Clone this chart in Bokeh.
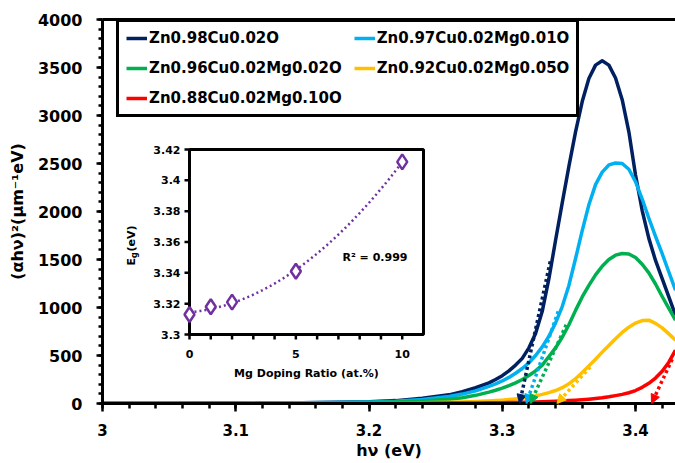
import numpy as np
from bokeh.plotting import figure
from bokeh.models import (Range1d, LinearAxis, FixedTicker, Legend, LegendItem,
                          Arrow, NormalHead, Label)
from bokeh.core.properties import value
from bokeh.embed import file_html
from bokeh.resources import INLINE

# ---------------- data ----------------
hv_ev = [3.00, 3.05, 3.10, 3.15, 3.20, 3.22, 3.24, 3.26, 3.27, 3.28, 3.29,
         3.295, 3.30, 3.305, 3.31, 3.315, 3.32, 3.325, 3.33, 3.335, 3.34,
         3.345, 3.35, 3.355, 3.36, 3.365, 3.37, 3.375, 3.38, 3.385, 3.39,
         3.395, 3.40, 3.405, 3.41, 3.415, 3.42, 3.425, 3.43]

zn098 = [2, 3, 5, 8, 18, 30, 54, 90, 124, 164, 215, 250, 290, 340, 400, 470,
         580, 730, 960, 1300, 1700, 2090, 2470, 2830, 3145, 3385, 3525, 3570,
         3525, 3390, 3165, 2830, 2380, 2010, 1720, 1490, 1300, 1110, 920]
mg001 = [1, 2, 4, 7, 15, 24, 42, 72, 98, 132, 178, 205, 235, 272, 315, 365,
         425, 500, 590, 700, 840, 1010, 1230, 1510, 1800, 2070, 2280, 2410,
         2485, 2505, 2500, 2440, 2310, 2130, 1930, 1740, 1560, 1370, 1180]
mg002 = [0, 1, 2, 4, 10, 16, 26, 44, 60, 85, 118, 138, 160, 186, 215, 250,
         292, 340, 400, 490, 580, 690, 820, 970, 1110, 1230, 1340, 1430, 1500,
         1545, 1563, 1558, 1520, 1450, 1360, 1245, 1115, 990, 868]
mg005 = [0, 0, 1, 2, 4, 6, 9, 13, 16, 20, 26, 30, 35, 41, 48, 56, 66, 79, 95,
         113, 135, 165, 205, 258, 322, 392, 462, 535, 605, 675, 740, 795, 838,
         864, 868, 835, 788, 725, 660]
mg010 = [0, 0, 0, 1, 2, 2, 3, 4, 5, 6, 7, 8, 9, 10, 11, 12, 14, 16, 18, 20,
         23, 26, 30, 34, 39, 45, 52, 60, 70, 82, 95, 112, 135, 168, 210, 265,
         335, 430, 555]

series_names = ["Zn0.98Cu0.02O", "Zn0.97Cu0.02Mg0.01O", "Zn0.96Cu0.02Mg0.02O",
                "Zn0.92Cu0.02Mg0.05O", "Zn0.88Cu0.02Mg0.10O"]
series_values = [zn098, mg001, mg002, mg005, mg010]
series_colors = ["#002060", "#00B0F0", "#00B050", "#FFC000", "#FF0000"]

# band gaps (inset) and tangent lines (start point on curve -> x-intercept = Eg)
mg_ratio = [0, 1, 2, 5, 10]
eg_values = [3.313, 3.318, 3.321, 3.341, 3.412]
tangent_x = [3.336, 3.342, 3.348, 3.366, 3.4275]
tangent_y = [1480, 960, 820, 380, 460]

x_ticks = [3.0, 3.1, 3.2, 3.3, 3.4]
x_tick_labels = ["3", "3.1", "3.2", "3.3", "3.4"]
y_ticks = [0, 500, 1000, 1500, 2000, 2500, 3000, 3500, 4000]

inset_y_ticks = [3.30, 3.32, 3.34, 3.36, 3.38, 3.40, 3.42]
inset_y_tick_labels = ["3.3", "3.32", "3.34", "3.36", "3.38", "3.4", "3.42"]
inset_x_ticks = [0, 5, 10]
inset_x_tick_labels = ["0", "5", "10"]
inset_x_minor = [0, 1, 2, 3, 4, 5, 6, 7, 8, 9, 10]
r2_text = "R\u00b2 = 0.999"

# ---------------- layout constants ----------------
FONT = "DejaVu Sans"
W, H = 675, 463
BL, BR, BT, BB = 102, 0, 19, 60
FRAME_W, FRAME_H = W - BL - BR, H - BT - BB
X_RANGE = (3.0, 3.43)
Y_RANGE = (0, 4000)
INSET_X = (0, 11)
INSET_Y = (3.30, 3.42)
INSET_PX = dict(left=87, right=321, bottom=69, top=254)  # inside main frame
PURPLE = "#7030A0"

p = figure(width=W, height=H, x_range=Range1d(*X_RANGE), y_range=Range1d(*Y_RANGE),
           output_backend="svg", toolbar_location=None,
           min_border_left=BL, min_border_right=BR, min_border_top=BT,
           min_border_bottom=BB)
p.outline_line_color = None
p.xgrid.visible = False
p.ygrid.visible = False
p.background_fill_color = "white"

# ---------------- axes ----------------
xa = p.xaxis[0]
xa.ticker = FixedTicker(ticks=x_ticks,
                        minor_ticks=list(np.round(np.arange(3.0, 3.4301, 0.02), 2)))
xa.major_label_overrides = dict(zip(x_ticks, x_tick_labels))
xa.axis_label = "h\u03bd (eV)"
xa.major_tick_out, xa.major_tick_in = 8, 0
xa.minor_tick_out, xa.minor_tick_in = 5, 0
xa.major_label_standoff = 12
xa.axis_label_standoff = 2

ya = p.yaxis[0]
ya.ticker = FixedTicker(ticks=y_ticks, minor_ticks=list(range(0, 4001, 100)))
ya.axis_label = "(\u03b1h\u03bd)\u00b2(\u03bcm\u207b\u00b9eV)"
ya.major_tick_out, ya.major_tick_in = 6, 0
ya.minor_tick_out, ya.minor_tick_in = 4, 0
ya.major_label_standoff = 14
ya.axis_label_standoff = 8

for ax, fs in ((xa, "15px"), (ya, "16px")):
    ax.axis_line_width = 3
    ax.axis_line_color = "black"
    ax.major_tick_line_width = 2.5
    ax.minor_tick_line_width = 2.5
    ax.major_tick_line_color = "black"
    ax.minor_tick_line_color = "black"
    ax.major_label_text_font = FONT
    ax.major_label_text_font_style = "bold"
    ax.major_label_text_font_size = fs
    ax.major_label_text_color = "black"
    ax.axis_label_text_font = FONT
    ax.axis_label_text_font_style = "bold"
    ax.axis_label_text_font_size = "16px"
    ax.axis_label_text_color = "black"

top_axis = LinearAxis(ticker=FixedTicker(ticks=[]), major_label_text_font_size="0px",
                      major_tick_out=0, major_tick_in=0, minor_tick_out=0,
                      minor_tick_in=0, axis_line_width=3, axis_line_color="black",
                      major_label_standoff=0)
p.add_layout(top_axis, "above")

# ---------------- main curves ----------------
items = []
for name, ys, col in zip(series_names, series_values, series_colors):
    r = p.line(hv_ev, ys, line_color=col, line_width=3.5, line_join="round")
    items.append(LegendItem(label=name, renderers=[r]))

for x0, y0, eg, col in zip(tangent_x, tangent_y, eg_values, series_colors):
    p.add_layout(Arrow(end=NormalHead(size=9, fill_color=col, line_color=col, line_width=1),
                       x_start=x0, y_start=y0, x_end=eg, y_end=0,
                       line_color=col, line_width=3.5, line_dash="3 3"))

legend = Legend(items=items, location=(14, 286), orientation="horizontal", ncols=2,
                label_text_font=FONT, label_text_font_style="bold",
                label_text_font_size="15px", label_text_color="black",
                glyph_width=21, glyph_height=18, label_height=18, label_standoff=2,
                spacing=12, padding=7, margin=0,
                border_line_color="black", border_line_width=3, border_line_alpha=1.0,
                background_fill_color="white", background_fill_alpha=1.0)
p.add_layout(legend, "center")

# ---------------- inset (own scales mapped into a sub-region of the frame) ----------------
sx = (INSET_PX["right"] - INSET_PX["left"]) / (INSET_X[1] - INSET_X[0])
sy = (INSET_PX["top"] - INSET_PX["bottom"]) / (INSET_Y[1] - INSET_Y[0])
ix_start = INSET_X[0] - INSET_PX["left"] / sx
iy_start = INSET_Y[0] - INSET_PX["bottom"] / sy
p.extra_x_ranges = {"ix": Range1d(ix_start, ix_start + FRAME_W / sx)}
p.extra_y_ranges = {"iy": Range1d(iy_start, iy_start + FRAME_H / sy)}
IR = dict(x_range_name="ix", y_range_name="iy")

p.quad(left=[INSET_X[0]], right=[INSET_X[1]], bottom=[INSET_Y[0]], top=[INSET_Y[1]],
       fill_color="white", line_color="black", line_width=3, **IR)
p.ray(x=[INSET_X[0]] * len(inset_y_ticks), y=inset_y_ticks, length=5,
      length_units="screen", angle=np.pi, line_color="black", line_width=2.5, **IR)
p.ray(x=inset_x_minor, y=[INSET_Y[0]] * len(inset_x_minor), length=5,
      length_units="screen", angle=-np.pi / 2, line_color="black", line_width=2.5, **IR)
p.text(x=[INSET_X[0]] * len(inset_y_ticks), y=inset_y_ticks, text=inset_y_tick_labels,
       x_offset=-9, text_align="right", text_baseline="middle",
       text_font=value(FONT), text_font_style="bold", text_font_size="11px",
       text_color="black", **IR)
p.text(x=inset_x_ticks, y=[INSET_Y[0]] * len(inset_x_ticks), text=inset_x_tick_labels,
       y_offset=19, text_align="center", text_baseline="middle",
       text_font=value(FONT), text_font_style="bold", text_font_size="11px",
       text_color="black", **IR)

coef = np.polyfit(mg_ratio, eg_values, 2)
xt = np.linspace(min(mg_ratio), max(mg_ratio), 80)
p.line(xt, np.polyval(coef, xt), line_color=PURPLE, line_width=2.5, line_dash="2 3", **IR)
p.scatter(mg_ratio, eg_values, marker="diamond", size=15, fill_color="white",
          line_color=PURPLE, line_width=2.5, **IR)

lab = dict(text_font=FONT, text_font_style="bold", text_color="black", **IR)
p.add_layout(Label(x=5.5, y=INSET_Y[0], y_offset=-39, text="Mg Doping Ratio (at.%)",
                   text_align="center", text_baseline="middle", text_font_size="11px", **lab))
p.add_layout(Label(x=0, y=INSET_Y[0], x_offset=-58, y_offset=69, angle=np.pi / 2,
                   text="E", text_align="left", text_baseline="middle",
                   text_font_size="11px", **lab))
p.add_layout(Label(x=0, y=INSET_Y[0], x_offset=-55, y_offset=76.5, angle=np.pi / 2,
                   text="g", text_align="left", text_baseline="middle",
                   text_font_size="8px", **lab))
p.add_layout(Label(x=0, y=INSET_Y[0], x_offset=-58, y_offset=83, angle=np.pi / 2,
                   text=" (eV)", text_align="left", text_baseline="middle",
                   text_font_size="11px", **lab))
p.add_layout(Label(x=0, y=INSET_Y[0], x_offset=153, y_offset=77, text=r2_text,
                   text_align="left", text_baseline="middle", text_font_size="11px", **lab))

open("out.html", "w").write(file_html(p, INLINE))
